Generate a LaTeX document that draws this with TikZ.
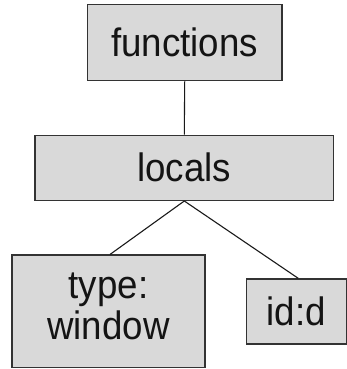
\documentclass[tikz,border=0pt]{standalone}
\usepackage{fontspec}
\setmainfont{Liberation Sans}
\definecolor{boxfill}{HTML}{D9D9D9}
\definecolor{boxline}{HTML}{333333}
\newcommand{\vstretch}[1]{\scalebox{1}[1.08]{#1}}
\begin{document}
\begin{tikzpicture}[x=1pt,y=-1pt,
  treebox/.style={draw=boxline,fill=boxfill,line width=1.4pt,rectangle,inner sep=0pt,
    font=\fontsize{36.7}{37}\selectfont,align=center,text=black!92},
  edge/.style={draw=black!90,line width=1.1pt}]
\useasboundingbox (0,0) rectangle (347,369);
\node[treebox,minimum width=194.5pt,minimum height=76pt] (functions) at (184.7,42.7) {\vstretch{functions}};
\node[treebox,minimum width=298.3pt,minimum height=65pt] (locals) at (184.3,167.8) {\vstretch{locals}};
\node[treebox,minimum width=193pt,minimum height=112.3pt] (type) at (108.5,311.3) {\vstretch{\begin{tabular}{@{}c@{}}type:\\[0pt]window\end{tabular}}};
\node[treebox,minimum width=99.8pt,minimum height=65pt] (id) at (296.4,311.5) {\vstretch{id:d}};
\draw[edge] (functions.south) -- (locals.north);
\draw[edge] (locals.south) -- ([xshift=1.5pt]type.north);
\draw[edge] (locals.south) -- ([xshift=1.8pt]id.north);
\end{tikzpicture}
\end{document}
